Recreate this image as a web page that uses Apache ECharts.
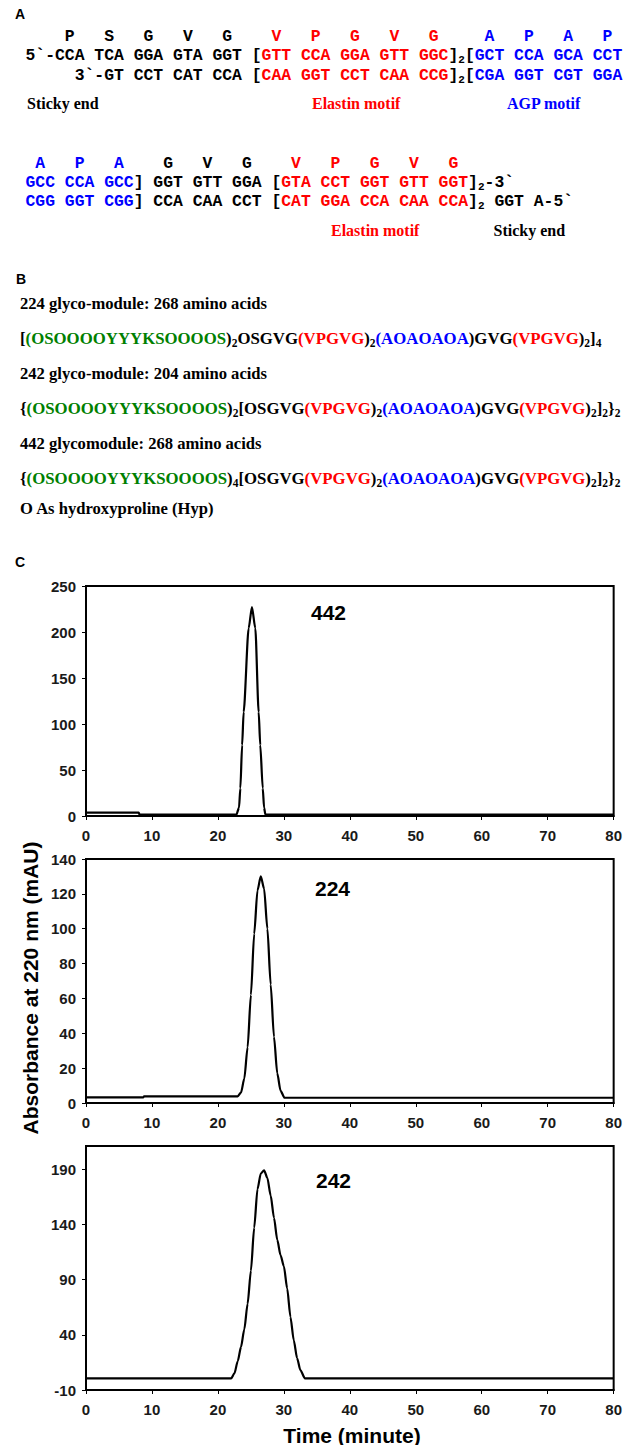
<!DOCTYPE html>
<html><head><meta charset="utf-8">
<script src="https://cdn.jsdelivr.net/npm/echarts@6/dist/echarts.min.js"></script>
<style>html,body{margin:0;padding:0;background:#fff}#c{width:625px;height:1445px}</style>
</head><body><div id="c"></div>
<script>
// ---------- data ----------
const time442 = [0, 8, 8.1, 22.8, 23.2, 23.4, 23.67, 23.9, 24.66, 25.16, 25.67, 26.18, 26.42, 26.8, 27.0, 27.2, 80];
const abs442  = [3.7, 3.7, 1.5, 1.5, 9, 30, 77, 113, 204, 227, 204, 113, 77, 30, 9, 1.5, 1.5];

const time224 = [0, 8.7, 8.8, 23.0, 23.5, 24.0, 24.5, 25.0, 25.5, 26.0, 26.5, 27.0, 27.5, 28.0, 28.5, 29.0, 29.5, 30.1, 80];
const abs224  = [3.2, 3.2, 3.8, 3.8, 6, 14, 32, 62, 97, 122, 130, 123, 100, 68, 38, 17, 7, 3, 3];

const time242 = [0, 22.0, 22.5, 23.0, 23.5, 24.0, 24.5, 25.0, 25.5, 26.0, 26.5, 27.0, 27.5, 28.0, 28.5, 29.0, 29.5, 30.0, 30.5, 31.0, 31.5, 32.0, 32.5, 33.2, 80];
const abs242  = [0.5, 0.5, 5, 16, 29, 45, 68, 98, 137, 172, 186, 189, 182, 166, 146, 126, 112, 102, 82, 56, 35, 19, 8, 0.5, 0.5];

const xTicks = [0, 10, 20, 30, 40, 50, 60, 70, 80];
const yTicks442 = [0, 50, 100, 150, 200, 250];
const yTicks224 = [0, 20, 40, 60, 80, 100, 120, 140];
const yTicks242 = [-10, 40, 90, 140, 190];
const yMax242 = 211;
const peakNames = ['442', '224', '242'];

const xTitle = 'Time (minute)';
const yTitle = 'Absorbance at 220 nm (mAU)';

// Panel A text runs
const aminoRow1 = [['    P   S   G   V   G','k'],['    V   P   G   V   G  ','r'],[' ','s'],['  A   P   A   P','b']];
const dnaRow1 = [['5`-CCA TCA GGA GTA GGT [','k'],['GTT CCA GGA GTT GGC','r'],[']','k'],['2','s'],['[','k'],['GCT CCA GCA CCT','b']];
const dnaRow2 = [['     3`-GT CCT CAT CCA [','k'],['CAA GGT CCT CAA CCG','r'],[']','k'],['2','s'],['[','k'],['CGA GGT CGT GGA','b']];
const aminoRow2 = [[' A   P   A','b'],['    G   V   G','k'],['    V   P   G   V   G','r']];
const dnaRow3 = [['GCC CCA GCC','b'],['] GGT GTT GGA [','k'],['GTA CCT GGT GTT GGT','r'],[']','k'],['2','s'],['-3`','k']];
const dnaRow4 = [['CGG GGT CGG','b'],['] CCA CAA CCT [','k'],['CAT GGA CCA CAA CCA','r'],[']','k'],['2','s'],[' GGT A-5`','k']];
const motifLabels1 = [['Sticky end','k',27],['Elastin motif','r',312],['AGP motif','b',507]];
const motifLabels2 = [['Elastin motif','r',331],['Sticky end','k',493.5]];

// Panel B text runs
const header224 = '224 glyco-module: 268 amino acids';
const header242 = '242 glyco-module: 204 amino acids';
const header442 = '442 glycomodule: 268 amino acids';
const formula224 = [['[','k'],['(OSOOOOYYYKSOOOOS','g'],[')','k'],['2','s'],['OSGVG','k'],['(VPGVG','r'],[')','k'],['2','s'],['(AOAOAOA','b'],[')GVG','k'],['(VPGVG','r'],[')','k'],['2','s'],[']','k'],['4','s']];
const formula242 = [['{','k'],['(OSOOOOYYYKSOOOOS','g'],[')','k'],['2','s'],['[OSGVG','k'],['(VPGVG','r'],[')','k'],['2','s'],['(AOAOAOA','b'],[')GVG','k'],['(VPGVG','r'],[')','k'],['2','s'],[']','k'],['2','s'],['}','k'],['2','s']];
const formula442 = [['{','k'],['(OSOOOOYYYKSOOOOS','g'],[')','k'],['4','s'],['[OSGVG','k'],['(VPGVG','r'],[')','k'],['2','s'],['(AOAOAOA','b'],[')GVG','k'],['(VPGVG','r'],[')','k'],['2','s'],[']','k'],['2','s'],['}','k'],['2','s']];
const noteText = 'O As hydroxyproline (Hyp)';

// ---------- styling ----------
const MONO = '"Liberation Mono", "DejaVu Sans Mono", monospace';
const SERIF = '"Liberation Serif", "DejaVu Serif", serif';
const SANS = '"Liberation Sans", Arial, Helvetica, sans-serif';
const RED = '#ff0000', BLUE = '#0000ff', GREEN = '#008000', BLACK = '#000000';

const monoStyles = {
  k: {family: MONO, size: 16.4, color: BLACK, dy: 0},
  r: {family: MONO, size: 16.4, color: RED, dy: 0},
  b: {family: MONO, size: 16.4, color: BLUE, dy: 0},
  s: {family: MONO, size: 11, color: BLACK, dy: 5}
};
const serifStyles = {
  k: {family: SERIF, size: 16.8, color: BLACK, dy: 0},
  r: {family: SERIF, size: 16.8, color: RED, dy: 0},
  b: {family: SERIF, size: 16.8, color: BLUE, dy: 0},
  g: {family: SERIF, size: 16.8, color: GREEN, dy: 0},
  s: {family: SERIF, size: 11.5, color: BLACK, dy: 5}
};
const headerFont = 'bold 16.6px ' + SERIF;
const labelColors = {k: BLACK, r: RED, b: BLUE};

const mctx = document.createElement('canvas').getContext('2d');
function fontOf(st) { return 'bold ' + st.size + 'px ' + st.family; }
function tw(str, font) { mctx.font = font; return mctx.measureText(str).width; }
function txt(x, y, text, font, fill, align, extra) {
  return Object.assign({
    type: 'text', x: x, y: y, silent: true,
    style: {text: text, font: font, fill: fill, align: align || 'left', verticalAlign: 'middle',
            textAlign: align || 'left', textVerticalAlign: 'middle'}
  }, extra || {});
}
function runs(x0, yMid, list, styles) {
  const out = [];
  let x = x0;
  list.forEach(function (r) {
    const st = styles[r[1]];
    const font = fontOf(st);
    r[0].split(/(\s+)/).forEach(function (part) {
      if (!part) return;
      const w = tw(part, font);
      if (/\S/.test(part)) out.push(txt(x, yMid + st.dy, part, font, st.color));
      x += w;
    });
  });
  return out;
}

const graphics = [];
// Panel letters
graphics.push(txt(15, 14, 'A', 'bold 14px ' + SANS, BLACK));
graphics.push(txt(16, 279, 'B', 'bold 14px ' + SANS, BLACK));
graphics.push(txt(15, 562, 'C', 'bold 14px ' + SANS, BLACK));
// Panel A
const AX = 25.5;
[].push.apply(graphics, runs(AX, 36, aminoRow1, monoStyles));
[].push.apply(graphics, runs(AX, 55, dnaRow1, monoStyles));
[].push.apply(graphics, runs(AX, 75, dnaRow2, monoStyles));
motifLabels1.forEach(function (l) { graphics.push(txt(l[2], 103, l[0], 'bold 16px ' + SERIF, labelColors[l[1]])); });
[].push.apply(graphics, runs(AX, 163, aminoRow2, monoStyles));
[].push.apply(graphics, runs(AX, 182, dnaRow3, monoStyles));
[].push.apply(graphics, runs(AX, 201, dnaRow4, monoStyles));
motifLabels2.forEach(function (l) { graphics.push(txt(l[2], 230, l[0], 'bold 16px ' + SERIF, labelColors[l[1]])); });
// Panel B
const BX = 20;
graphics.push(txt(BX, 303, header224, headerFont, BLACK));
[].push.apply(graphics, runs(BX, 338, formula224, serifStyles));
graphics.push(txt(BX, 373, header242, headerFont, BLACK));
[].push.apply(graphics, runs(BX, 408, formula242, serifStyles));
graphics.push(txt(BX, 443, header442, headerFont, BLACK));
[].push.apply(graphics, runs(BX, 478, formula442, serifStyles));
graphics.push(txt(BX, 508, noteText, headerFont, BLACK));
// Panel C titles
graphics.push(txt(311, 612, peakNames[0], 'bold 21px ' + SANS, BLACK));
graphics.push(txt(315, 888, peakNames[1], 'bold 21px ' + SANS, BLACK));
graphics.push(txt(316, 1180, peakNames[2], 'bold 21px ' + SANS, BLACK));
graphics.push(txt(352, 1435, xTitle, 'bold 21px ' + SANS, BLACK, 'center'));
graphics.push(txt(30, 988, yTitle, 'bold 21px ' + SANS, BLACK, 'center', {rotation: Math.PI / 2}));

// ---------- charts ----------
const grids = [
  {left: 86, right: 7, top: 586, height: 230},
  {left: 86, right: 7, top: 859, height: 244},
  {left: 86, right: 7, top: 1146, height: 244}
].map(function (g) { return Object.assign(g, {show: true, borderColor: '#000', borderWidth: 2, backgroundColor: 'transparent'}); });

const axisLabelStyle = {fontSize: 15, fontWeight: 'bold', color: '#1a1a1a', fontFamily: SANS};
const xAxes = [0, 1, 2].map(function (i) {
  return {
    gridIndex: i, type: 'value', min: xTicks[0], max: xTicks[xTicks.length - 1], interval: xTicks[1] - xTicks[0],
    axisLine: {show: true, onZero: false, lineStyle: {color: '#000', width: 2}},
    axisTick: {show: true, length: 4, lineStyle: {color: '#000', width: 1}},
    axisLabel: Object.assign({margin: 12, showMaxLabel: true, showMinLabel: true}, axisLabelStyle),
    splitLine: {show: false}
  };
});
function yAxisFrom(i, ticks, maxV, custom) {
  const ax = {
    gridIndex: i, type: 'value', min: ticks[0], max: maxV,
    axisLine: {show: true, onZero: false, lineStyle: {color: '#000', width: 2}},
    axisTick: {show: true, length: 4, lineStyle: {color: '#000', width: 1}},
    axisLabel: Object.assign({margin: 10}, axisLabelStyle),
    splitLine: {show: false}
  };
  if (custom) {
    ax.interval = 50;
    ax.axisLabel.customValues = ticks;
    ax.axisTick.customValues = ticks;
  } else {
    ax.interval = ticks[1] - ticks[0];
  }
  return ax;
}
const yAxes = [
  yAxisFrom(0, yTicks442, yTicks442[yTicks442.length - 1], false),
  yAxisFrom(1, yTicks224, yTicks224[yTicks224.length - 1], false),
  yAxisFrom(2, yTicks242, yMax242, true)
];
function zip(t, v) { return t.map(function (x, k) { return [x, v[k]]; }); }
const seriesData = [zip(time442, abs442), zip(time224, abs224), zip(time242, abs242)];
const series = seriesData.map(function (d, i) {
  return {
    type: 'line', name: peakNames[i], xAxisIndex: i, yAxisIndex: i, data: d,
    showSymbol: false, symbol: 'none', smooth: 0.25, smoothMonotone: 'x',
    lineStyle: {color: '#000', width: 2.2}, silent: true
  };
});

const chart = echarts.init(document.getElementById('c'), null, {renderer: 'svg'});
chart.setOption({
  animation: false,
  backgroundColor: '#fff',
  textStyle: {fontFamily: SANS},
  grid: grids,
  xAxis: xAxes,
  yAxis: yAxes,
  series: series,
  graphic: {elements: graphics}
});
</script></body></html>
